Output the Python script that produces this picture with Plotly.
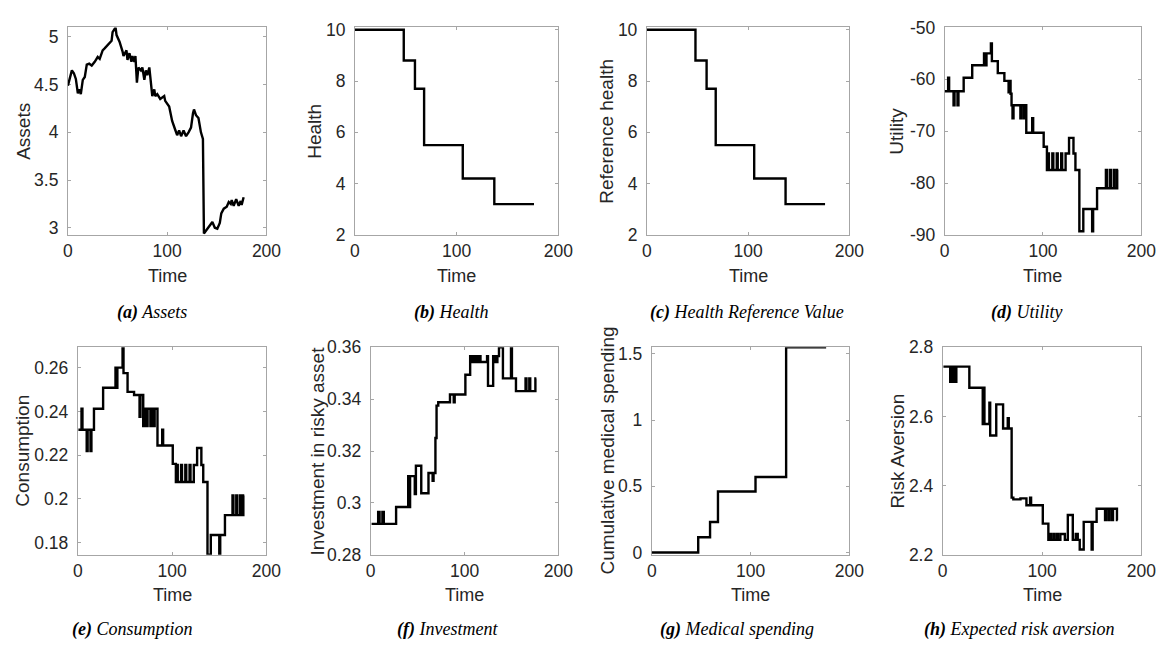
import plotly.graph_objects as go

# ---------------- data ----------------
assets_t = [0, 2.3, 4, 6, 8, 10, 11.6, 13, 15, 17, 19, 21.5, 24, 27, 30, 32, 35, 37, 39, 42, 44, 45, 48,
            49, 52, 55, 56, 59, 60, 62, 64, 65, 67, 68, 69.5, 71, 73.5, 75, 77, 78.5, 80, 82, 83.5, 85,
            87, 88, 90, 93, 97, 98, 102, 103, 105, 108, 110, 112, 114, 116.5, 119, 121.5, 124, 126, 127,
            129, 131.5, 134, 136, 137, 140, 143, 145.5, 148, 150.5, 153, 154.5, 157, 160, 162, 164, 165,
            167, 169.5, 172, 174, 175, 177]
assets_v = [4.49, 4.60, 4.65, 4.62, 4.56, 4.41, 4.45, 4.40, 4.55, 4.58, 4.71, 4.72, 4.70, 4.74, 4.79, 4.77,
            4.86, 4.88, 4.90, 4.93, 4.96, 5.05, 5.10, 5.02, 4.95, 4.85, 4.80, 4.86, 4.76, 4.83, 4.74, 4.80,
            4.74, 4.80, 4.52, 4.68, 4.65, 4.68, 4.55, 4.65, 4.60, 4.68, 4.50, 4.38, 4.45, 4.38, 4.40, 4.35,
            4.38, 4.33, 4.27, 4.22, 4.12, 4.03, 3.97, 4.02, 3.96, 4.02, 3.96, 4.00, 4.05, 4.20, 4.24, 4.18,
            4.15, 4.00, 3.93, 2.94, 2.98, 3.02, 3.06, 3.00, 2.99, 3.05, 3.15, 3.20, 3.22, 3.27, 3.25, 3.29,
            3.23, 3.30, 3.23, 3.28, 3.24, 3.32]

health_t = [0, 48, 59, 68, 106, 137, 176]
health_v = [10, 8.8, 7.7, 5.5, 4.2, 3.2, 3.2]

refhealth_t = [0, 48, 59, 68, 106, 137, 176]
refhealth_v = [10, 8.8, 7.7, 5.5, 4.2, 3.2, 3.2]

utility_t = [0, 3.5, 4.5, 9, 10, 13, 14, 19.3, 28, 40, 41.5, 42.5, 47, 48, 54, 60.7, 65, 66, 67, 68, 69,
             70, 77, 78, 80.5, 81.5, 83, 89, 90, 100.7, 104, 105, 106, 109.5, 110.5, 114, 115, 118.5,
             119.5, 123, 126.5, 131, 133, 137, 141, 150, 151, 155, 164, 165, 168, 169, 172, 173, 175.5,
             176.5]
utility_v = [-62.3, -59.7, -62.3, -65, -62.3, -65, -62.3, -59.7, -57.3, -55, -57.3, -55, -53.1, -56.5,
             -58.8, -60.3, -62.5, -60.3, -62.8, -65, -67.5, -65, -67.5, -65, -67.5, -65, -70.3, -67.5,
             -70.3, -73, -77.5, -74.3, -77.5, -74.3, -77.5, -74.3, -77.5, -74.3, -77.5, -74.3, -71.3,
             -74.3, -77.5, -89.3, -85, -89.3, -85, -81, -77.5, -81, -77.5, -81, -77.5, -81, -77.5, -77.5]

cons_t = [0.7, 4, 5, 9.5, 10.5, 13.5, 14.5, 17.2, 26.9, 40, 41, 42, 47.5, 48.5, 52.8, 59.7, 65.5, 66.5,
          69.4, 71, 73, 74, 77, 78, 80.5, 81.5, 84.5, 89.5, 90.5, 100.7, 104, 105, 106, 109.5, 110.5,
          114, 115, 118.5, 119.5, 123, 126.5, 131, 133, 137.5, 141, 150, 151, 156, 164, 165, 168, 169,
          172, 173, 175.5, 176.5]
cons_v = [0.2316, 0.2412, 0.2316, 0.2219, 0.2316, 0.2219, 0.2316, 0.2412, 0.2508, 0.2600, 0.2508, 0.2600,
          0.2693, 0.2575, 0.2489, 0.2475, 0.2375, 0.2475, 0.2333, 0.2412, 0.2333, 0.2412, 0.2333, 0.2412,
          0.2333, 0.2412, 0.2244, 0.2316, 0.2244, 0.2160, 0.2077, 0.2155, 0.2077, 0.2155, 0.2077, 0.2155,
          0.2077, 0.2155, 0.2077, 0.2155, 0.2233, 0.2155, 0.2077, 0.1745, 0.1835, 0.1745, 0.1835, 0.1926,
          0.2016, 0.1926, 0.2016, 0.1926, 0.2016, 0.1926, 0.2016, 0.2016]

invest_t = [1, 8, 9.5, 12.5, 14, 27.1, 40, 41, 42, 47, 48.2, 53.9, 61.6, 66, 67, 69, 70.2, 72, 84.5,
            88.5, 89.5, 100.9, 106, 107, 109, 110, 112.5, 113.5, 116, 117, 124, 125, 130.5, 133, 135,
            136.7, 140.9, 149.5, 150.5, 154.8, 165, 166, 169, 170, 175.5, 176.5]
invest_v = [0.2919, 0.2965, 0.2919, 0.2965, 0.2919, 0.2984, 0.3103, 0.2984, 0.3103, 0.3034, 0.3143,
            0.3037, 0.3115, 0.3085, 0.3115, 0.3250, 0.3375, 0.3388, 0.3418, 0.3388, 0.3418, 0.3494,
            0.3566, 0.3543, 0.3566, 0.3543, 0.3566, 0.3543, 0.3566, 0.3543, 0.3566, 0.3451, 0.3566,
            0.3543, 0.3566, 0.3600, 0.3480, 0.3600, 0.3480, 0.3431, 0.3480, 0.3431, 0.3480, 0.3431,
            0.3480, 0.3480]

med_t = [0, 47, 59, 67, 105, 136, 176.5]
med_v = [0, 0.115, 0.23, 0.46, 0.57, 1.55, 1.55]

risk_t = [0.7, 7.5, 8.2, 10.3, 11, 13, 13.7, 26.8, 40.3, 41.3, 42, 47, 47.8, 53.9, 60.8, 65.5, 66.5,
          69.4, 71.1, 78.3, 84.3, 88, 89, 100.8, 106.4, 108, 109, 111.5, 112.5, 115, 116, 118.5, 123,
          126, 131, 134, 136, 138, 142, 150, 151, 155, 163.5, 164.5, 167, 168, 170.5, 171.5, 175.5,
          176.2]
risk_v = [2.744, 2.700, 2.744, 2.700, 2.744, 2.700, 2.744, 2.683, 2.578, 2.683, 2.578, 2.640, 2.545,
          2.635, 2.565, 2.595, 2.565, 2.365, 2.360, 2.363, 2.343, 2.365, 2.343, 2.290, 2.243, 2.260,
          2.243, 2.260, 2.243, 2.260, 2.243, 2.260, 2.243, 2.315, 2.243, 2.260, 2.243, 2.215, 2.295,
          2.215, 2.295, 2.333, 2.300, 2.333, 2.300, 2.333, 2.300, 2.333, 2.300, 2.300]

y_titles = ["Assets", "Health", "Reference health", "Utility",
            "Consumption", "Investment in risky asset", "Cumulative medical spending", "Risk Aversion"]
captions = [("(a)", "Assets"), ("(b)", "Health"), ("(c)", "Health Reference Value"), ("(d)", "Utility"),
            ("(e)", "Consumption"), ("(f)", "Investment"), ("(g)", "Medical spending"),
            ("(h)", "Expected risk aversion")]
y_ticks = [[3, 3.5, 4, 4.5, 5], [2, 4, 6, 8, 10], [2, 4, 6, 8, 10], [-90, -80, -70, -60, -50],
           [0.18, 0.2, 0.22, 0.24, 0.26], [0.28, 0.3, 0.32, 0.34, 0.36], [0, 0.5, 1, 1.5],
           [2.2, 2.4, 2.6, 2.8]]
y_ticklabels = [["3", "3.5", "4", "4.5", "5"], ["2", "4", "6", "8", "10"], ["2", "4", "6", "8", "10"],
                ["-90", "-80", "-70", "-60", "-50"], ["0.18", "0.2", "0.22", "0.24", "0.26"],
                ["0.28", "0.3", "0.32", "0.34", "0.36"], ["0", "0.5", "1", "1.5"],
                ["2.2", "2.4", "2.6", "2.8"]]
y_ranges = [[2.925, 5.1], [2, 10.09], [2, 10.09], [-90, -50], [0.1745, 0.2693], [0.28, 0.36],
            [-0.017, 1.55], [2.2, 2.8]]
x_ticks = [0, 100, 200]

series = [(assets_t, assets_v, "linear"), (health_t, health_v, "hv"), (refhealth_t, refhealth_v, "hv"),
          (utility_t, utility_v, "hv"), (cons_t, cons_v, "hv"), (invest_t, invest_v, "hv"),
          (med_t, med_v, "hv"), (risk_t, risk_v, "hv")]

# ---------------- layout (pixel geometry) ----------------
W, H = 1173, 650
plot_x = [(64, 266), (356, 563), (653, 859), (956, 1156),
          (74, 266), (372, 563), (658, 859), (954, 1156)]
plot_y = [(18, 232)] * 4 + [(348, 562)] * 4
ytitle_x = [18, 315, 612, 907, 17, 317, 612, 907]
caption_x = [150, 454, 755, 1040, 130, 450, 745, 1032]
caption_y = [312] * 4 + [639] * 4

fig = go.Figure()
annotations = []
axis_color = "#a6a6a6"
text_color = "#262626"
font_sans = "Liberation Sans, Arial, Helvetica, sans-serif"
font_serif = "Liberation Serif, Times New Roman, serif"

for i, (t, v, shape) in enumerate(series):
    n = i + 1
    xa = "x" if n == 1 else f"x{n}"
    ya = "y" if n == 1 else f"y{n}"
    fig.add_trace(go.Scatter(x=t, y=v, mode="lines", line=dict(color="black", width=2.4, shape=shape),
                             xaxis=xa, yaxis=ya, showlegend=False, hoverinfo="x+y"))
    x0, x1 = plot_x[i]
    y0, y1 = plot_y[i]
    dom_x = [x0 / W, x1 / W]
    dom_y = [1 - y1 / H, 1 - y0 / H]
    common = dict(showline=True, linecolor=axis_color, linewidth=1, mirror="ticks", ticks="inside",
                  ticklen=3, tickcolor=axis_color, showgrid=False, zeroline=False, layer="below traces",
                  tickfont=dict(family=font_sans, size=17.5, color=text_color))
    fig.update_layout(**{
        ("xaxis" if n == 1 else f"xaxis{n}"): dict(domain=dom_x, anchor=ya, range=[0, 200],
                                                   tickvals=x_ticks, ticklabelstandoff=0, **common),
        ("yaxis" if n == 1 else f"yaxis{n}"): dict(domain=dom_y, anchor=xa, range=y_ranges[i],
                                                   tickvals=y_ticks[i], ticktext=y_ticklabels[i],
                                                   ticklabelstandoff=5, **common),
    })
    # y-axis title
    annotations.append(dict(x=ytitle_x[i] / W, y=1 - (y0 + y1) / 2 / H, xref="paper", yref="paper",
                            text=y_titles[i], textangle=-90, showarrow=False, xanchor="center",
                            yanchor="middle", font=dict(family=font_sans, size=19, color=text_color)))
    # x-axis title
    annotations.append(dict(x=(x0 + x1) / 2 / W, y=1 - (y1 + 42) / H, xref="paper", yref="paper",
                            text="Time", showarrow=False, xanchor="center", yanchor="middle",
                            font=dict(family=font_sans, size=18, color=text_color)))
    # caption
    lab, word = captions[i]
    annotations.append(dict(x=caption_x[i] / W, y=1 - caption_y[i] / H, xref="paper", yref="paper",
                            text=f"<b><i>{lab}</i></b><i> {word}</i>", showarrow=False,
                            xanchor="center", yanchor="middle",
                            font=dict(family=font_serif, size=18, color="black")))

fig.update_layout(width=W, height=H, margin=dict(l=0, r=0, t=0, b=0), paper_bgcolor="white",
                  plot_bgcolor="white", annotations=annotations)

fig.write_html("out.html", config={"displayModeBar": False},
               post_script="document.body.style.margin='0';")
